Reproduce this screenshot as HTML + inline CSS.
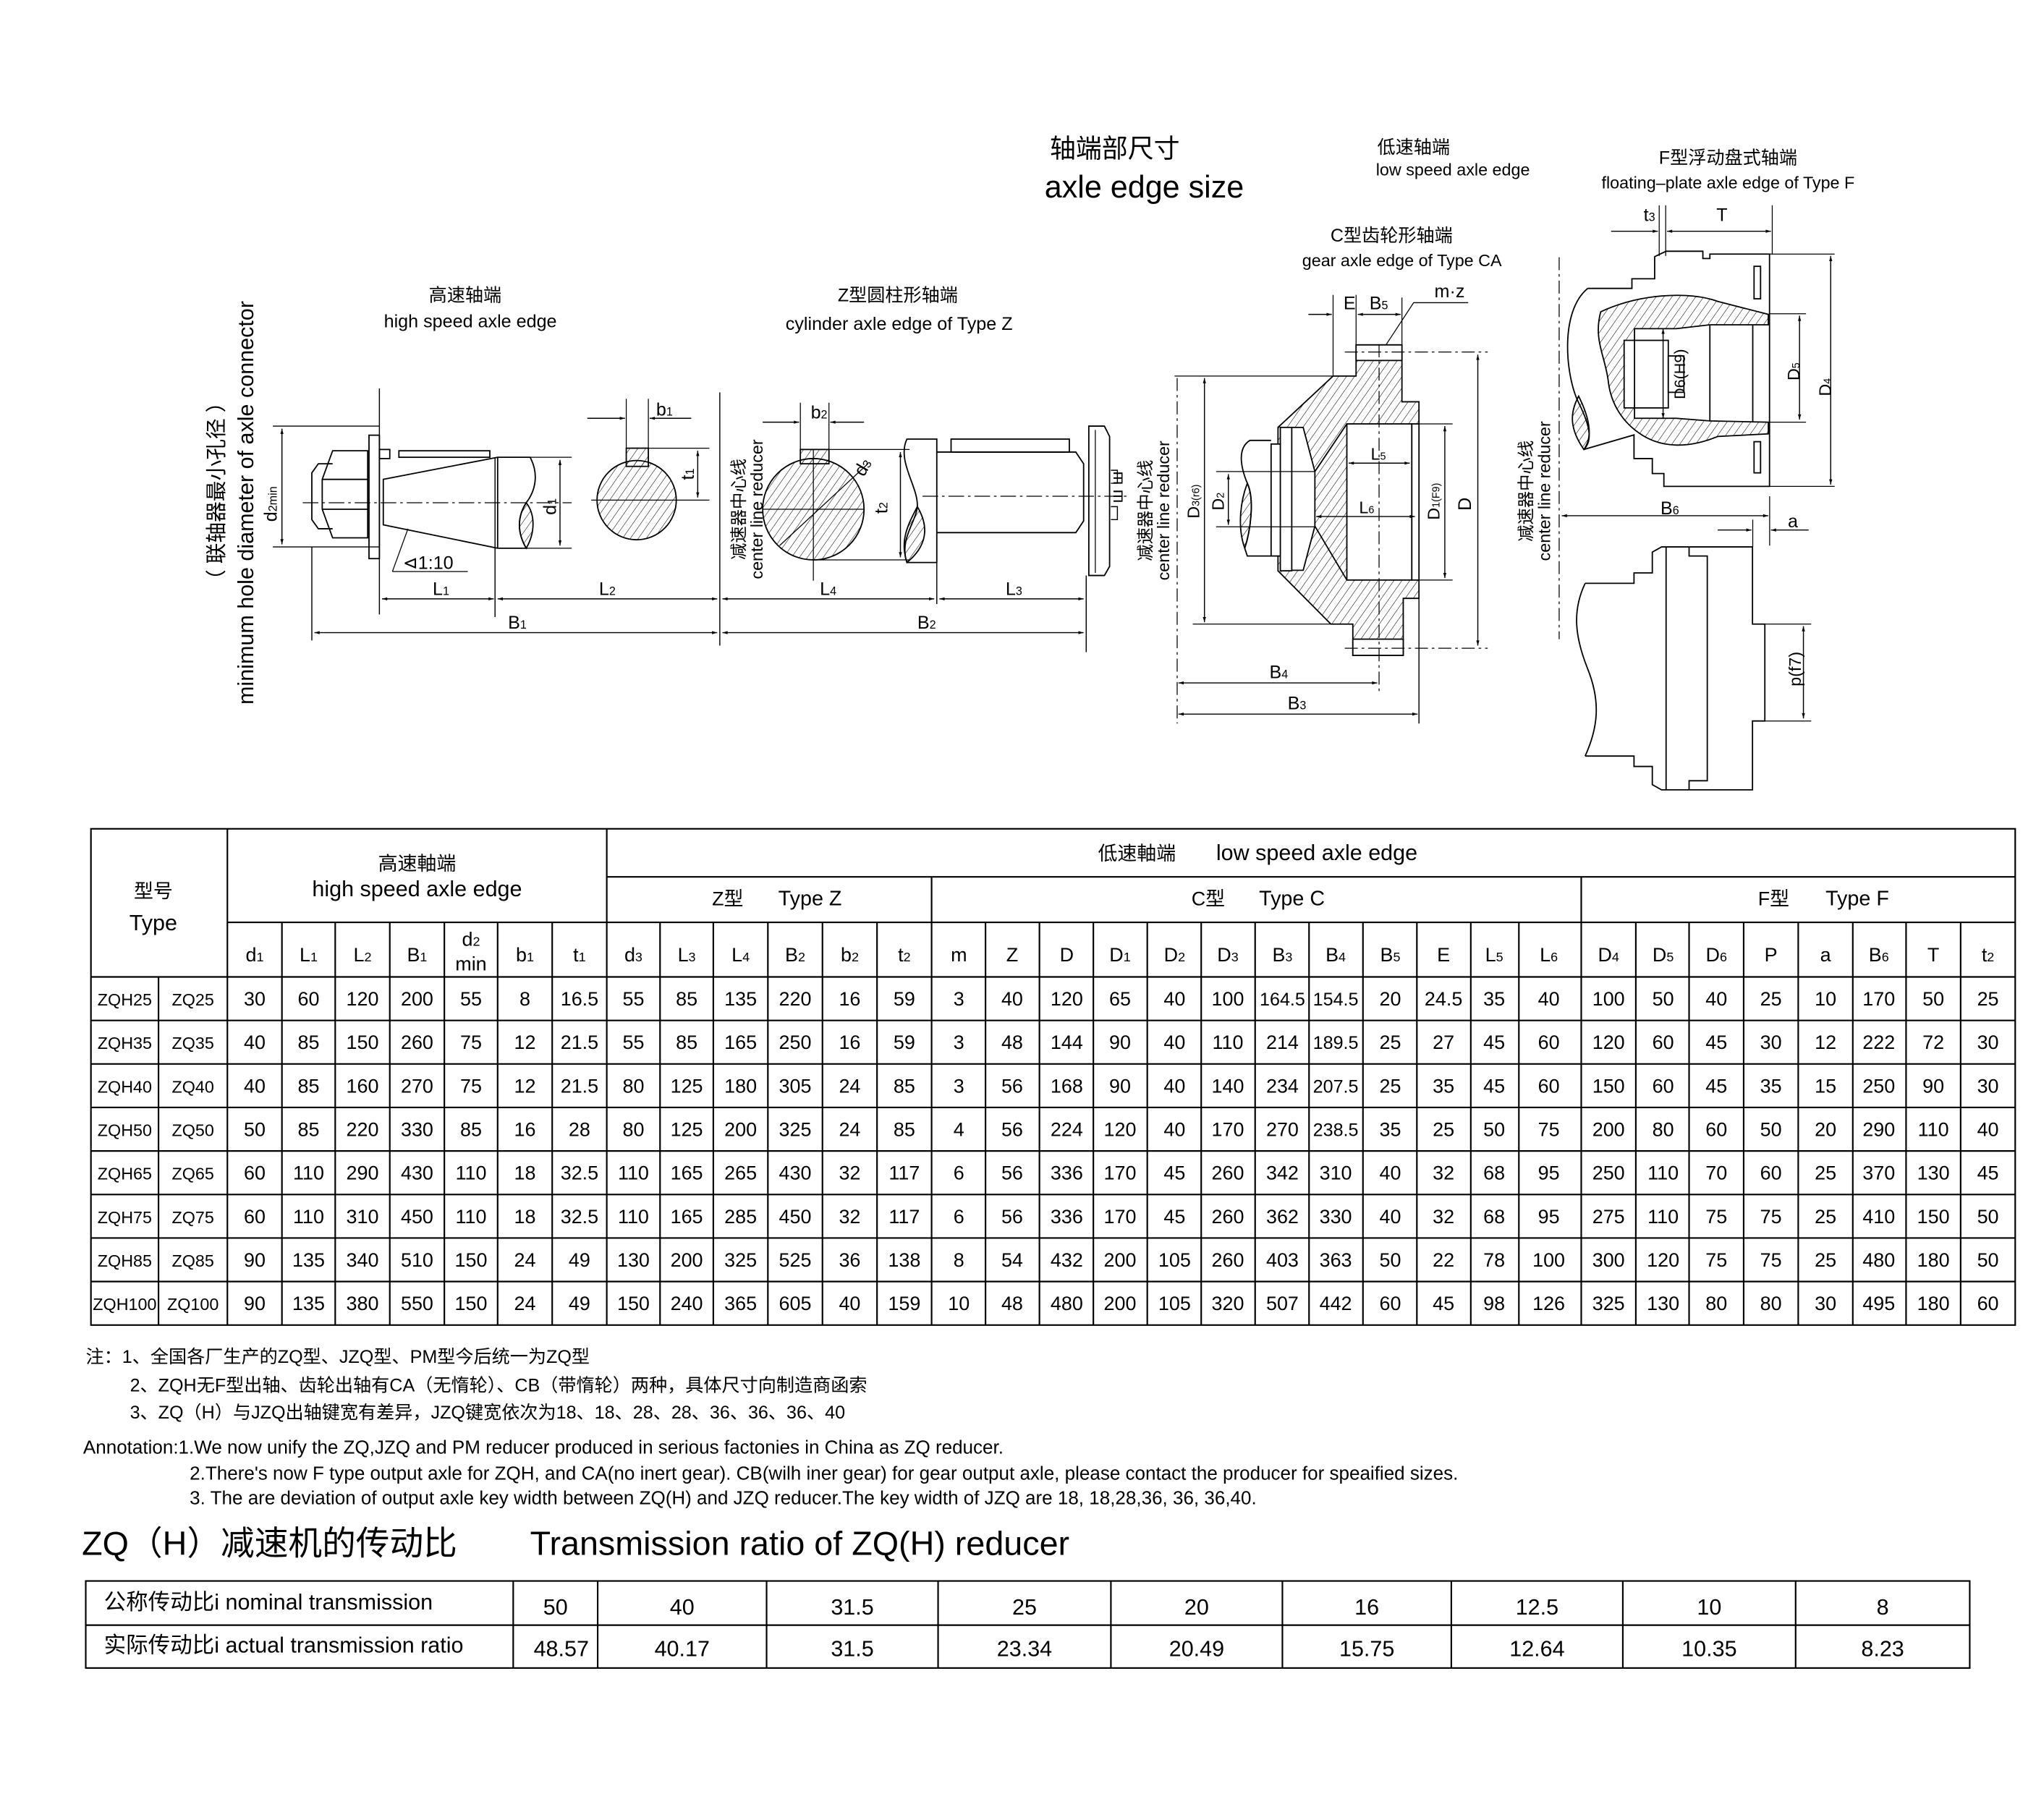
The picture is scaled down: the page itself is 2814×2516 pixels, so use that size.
<!DOCTYPE html>
<html><head><meta charset="utf-8"><style>
html,body{margin:0;padding:0;background:#fff}
svg{display:block}
text{font-family:"Liberation Sans","Noto Sans CJK SC",sans-serif;fill:#000}
</style></head><body>
<svg width="2814" height="2516" viewBox="0 0 1567 1401" preserveAspectRatio="none" xmlns="http://www.w3.org/2000/svg">
<defs>
<pattern id="h" width="5" height="5" patternUnits="userSpaceOnUse" patternTransform="rotate(35)"><line x1="0" y1="0" x2="0" y2="5" stroke="#000" stroke-width="0.6"/></pattern>
<marker id="a" viewBox="0 0 10 10" refX="10" refY="5" markerWidth="7" markerHeight="5" orient="auto-start-reverse"><path d="M0,2 L10,5 L0,8 z" fill="#000"/></marker>
</defs>
<rect width="1567" height="1401" fill="#fff"/>
<g stroke="#000" fill="none" stroke-width="1">

<!-- ===== HIGH SPEED SHAFT ===== -->
<line x1="292" y1="299" x2="292" y2="473" stroke-width="0.8"/>
<line x1="210" y1="328" x2="292" y2="328" stroke-width="0.8"/>
<line x1="210" y1="421" x2="292" y2="421" stroke-width="0.8"/>
<line x1="217" y1="330" x2="217" y2="419" marker-start="url(#a)" marker-end="url(#a)" stroke-width="0.8"/>
<rect x="284" y="335" width="8" height="95"/>
<rect x="292" y="346" width="8" height="7"/>
<path d="M256,347 L283,347 L283,414 L256,414 L248,392 L248,369 Z"/>
<line x1="248" y1="369" x2="283" y2="369"/><line x1="248" y1="392" x2="283" y2="392"/>
<path d="M256,357 L245,357 L240,364 L240,400 L245,407 L256,407"/>
<path d="M295,369 L383,352 L408,352 C415,365 412,378 405,387 C398,398 398,410 405,422 L383,422 L295,404 Z"/>
<path d="M405,387 C412,396 412,410 405,422 C398,410 398,398 405,387 Z" fill="url(#h)"/>
<line x1="383" y1="352" x2="383" y2="422"/>
<rect x="307" y="347" width="70" height="5"/>
<line x1="233" y1="387" x2="440" y2="387" stroke-dasharray="12,3,2,3" stroke-width="0.7"/>
<line x1="405" y1="352" x2="440" y2="352" stroke-width="0.7"/><line x1="405" y1="422" x2="440" y2="422" stroke-width="0.7"/>
<line x1="431" y1="354" x2="431" y2="420" marker-start="url(#a)" marker-end="url(#a)" stroke-width="0.8"/>
<path d="M302,440 L314,407 M302,440 L360,440" stroke-width="0.7"/>
<line x1="381" y1="352" x2="381" y2="475" stroke-width="0.8"/>
<line x1="554" y1="302" x2="554" y2="497" stroke-width="0.8"/>
<line x1="240" y1="421" x2="240" y2="493" stroke-width="0.8"/>
<line x1="294" y1="461" x2="380" y2="461" marker-start="url(#a)" marker-end="url(#a)" stroke-width="0.8"/>
<line x1="383" y1="461" x2="552" y2="461" marker-start="url(#a)" marker-end="url(#a)" stroke-width="0.8"/>
<line x1="242" y1="487" x2="552" y2="487" marker-start="url(#a)" marker-end="url(#a)" stroke-width="0.8"/>
<!-- key circle 1 -->
<circle cx="490" cy="385" r="30.5" fill="url(#h)"/>
<rect x="482" y="345" width="17" height="14" fill="url(#h)"/>
<line x1="482" y1="307" x2="482" y2="345" stroke-width="0.7"/><line x1="499" y1="307" x2="499" y2="345" stroke-width="0.7"/>
<line x1="452" y1="322" x2="481" y2="322" marker-end="url(#a)" stroke-width="0.8"/>
<line x1="532" y1="322" x2="500" y2="322" marker-end="url(#a)" stroke-width="0.8"/>
<line x1="499" y1="345" x2="546" y2="345" stroke-width="0.7"/>
<line x1="455" y1="385" x2="546" y2="385" stroke-width="0.7"/>
<line x1="537" y1="347" x2="537" y2="383" marker-start="url(#a)" marker-end="url(#a)" stroke-width="0.8"/>
<!-- key circle 2 -->
<circle cx="626" cy="392" r="39" fill="url(#h)"/>
<rect x="616" y="346" width="22" height="11" fill="url(#h)"/>
<line x1="616" y1="310" x2="616" y2="346" stroke-width="0.7"/><line x1="638" y1="310" x2="638" y2="346" stroke-width="0.7"/>
<line x1="587" y1="325" x2="615" y2="325" marker-end="url(#a)" stroke-width="0.8"/>
<line x1="665" y1="325" x2="639" y2="325" marker-end="url(#a)" stroke-width="0.8"/>
<line x1="626" y1="346" x2="626" y2="447" stroke-width="0.7"/>
<line x1="587" y1="392" x2="665" y2="392" stroke-width="0.7"/>
<line x1="600" y1="420" x2="668" y2="357" stroke-width="0.7"/>
<line x1="638" y1="346" x2="700" y2="346" stroke-width="0.7"/><line x1="626" y1="431" x2="700" y2="431" stroke-width="0.7"/>
<line x1="693" y1="348" x2="693" y2="429" marker-start="url(#a)" marker-end="url(#a)" stroke-width="0.8"/>
<!-- Z shaft -->
<path d="M698,338 L721,338 L721,433 L698,433 C692,415 705,402 706,390 C707,375 690,355 698,338 Z"/>
<path d="M706,390 C715,405 714,420 698,433 C692,415 700,402 706,390 Z" fill="url(#h)"/>
<path d="M721,348 L828,348 L834,357 L834,401 L828,410 L721,410"/>
<rect x="732" y="338" width="91" height="10"/>
<path d="M838,328 L850,328 L854,336 L854,436 L850,443 L838,443 Z"/>
<line x1="843" y1="331" x2="843" y2="441" stroke-width="0.7"/>
<path d="M855,362 h5 v10 h-5 M855,390 h5 v10 h-5" stroke-width="0.8"/>
<line x1="710" y1="382" x2="870" y2="382" stroke-dasharray="12,3,2,3" stroke-width="0.7"/>
<line x1="721" y1="433" x2="721" y2="465" stroke-width="0.8"/>
<line x1="836" y1="443" x2="836" y2="502" stroke-width="0.8"/>
<line x1="556" y1="461" x2="719" y2="461" marker-start="url(#a)" marker-end="url(#a)" stroke-width="0.8"/>
<line x1="723" y1="461" x2="834" y2="461" marker-start="url(#a)" marker-end="url(#a)" stroke-width="0.8"/>
<line x1="556" y1="487" x2="834" y2="487" marker-start="url(#a)" marker-end="url(#a)" stroke-width="0.8"/>

<!-- ===== GEAR C ===== -->
<line x1="906" y1="291" x2="906" y2="557" stroke-dasharray="10,3,2,3" stroke-width="0.7"/>
<path d="M983.6,329 L1026,289.5 L1043.7,289.5 L1043.7,265.5 L1079,265.5 L1079,309.3 L1092.1,309.3 L1092.1,460.6 L1080,460.6 L1080,504.5 L1041.2,504.5 L1041.2,480.4 L1024.3,480.4 L983.6,439.4 Z" fill="url(#h)"/>
<rect x="1043.7" y="265.5" width="35.3" height="12" fill="#fff"/>
<rect x="1041.2" y="492" width="38.8" height="12.5" fill="#fff"/>
<rect x="1036.6" y="326.3" width="50" height="120.2" fill="#fff"/>
<rect x="1086.6" y="326.3" width="5.5" height="120.2" fill="#fff"/>
<path d="M994,329 L1003,329 L1012,363 L1012,405 L1003,439 L994,439 Z" fill="#fff"/>
<path d="M1036.6,326.3 L1012,363 M1036.6,446.5 L1012,405"/>
<rect x="985.4" y="329" width="8.8" height="110.4" fill="#fff"/>
<rect x="978.3" y="341.8" width="7.1" height="86.2" fill="#fff"/>
<path d="M978.3,339 L962,339 C952,345 955,360 960,372 C966,385 962,410 958,422 L960,428 L978.3,428"/>
<path d="M960,372 C966,385 962,410 958,422 C952,405 955,385 960,372 Z" fill="url(#h)"/>
<line x1="1061.4" y1="265" x2="1061.4" y2="534" stroke-dasharray="10,3,2,3" stroke-width="0.7"/>
<line x1="1035" y1="271" x2="1145" y2="271" stroke-dasharray="10,3,2,3" stroke-width="0.7"/>
<line x1="1035" y1="499" x2="1145" y2="499" stroke-dasharray="10,3,2,3" stroke-width="0.7"/>
<line x1="1137.4" y1="273" x2="1137.4" y2="497" marker-start="url(#a)" marker-end="url(#a)" stroke-width="0.8"/>
<line x1="1092" y1="326.3" x2="1118" y2="326.3" stroke-width="0.7"/><line x1="1092" y1="446.5" x2="1118" y2="446.5" stroke-width="0.7"/>
<line x1="1112" y1="328" x2="1112" y2="445" marker-start="url(#a)" marker-end="url(#a)" stroke-width="0.8"/>
<line x1="904" y1="289.5" x2="1026" y2="289.5" stroke-width="0.7"/><line x1="918" y1="480.4" x2="1024" y2="480.4" stroke-width="0.7"/>
<line x1="927" y1="291" x2="927" y2="479" marker-start="url(#a)" marker-end="url(#a)" stroke-width="0.8"/>
<line x1="936" y1="363" x2="1012" y2="363" stroke-width="0.7"/><line x1="936" y1="405.5" x2="1012" y2="405.5" stroke-width="0.7"/>
<line x1="945.4" y1="365" x2="945.4" y2="404" marker-start="url(#a)" marker-end="url(#a)" stroke-width="0.8"/>
<line x1="1038" y1="356.5" x2="1085" y2="356.5" marker-start="url(#a)" marker-end="url(#a)" stroke-width="0.8"/>
<line x1="1013" y1="397.6" x2="1089" y2="397.6" marker-start="url(#a)" marker-end="url(#a)" stroke-width="0.8"/>
<line x1="1026" y1="227" x2="1026" y2="289" stroke-width="0.7"/>
<line x1="1043.7" y1="227" x2="1043.7" y2="265" stroke-width="0.7"/>
<line x1="1079" y1="229" x2="1079" y2="265" stroke-width="0.7"/>
<line x1="1007" y1="242" x2="1025" y2="242" marker-end="url(#a)" stroke-width="0.8"/>
<line x1="1045" y1="242" x2="1078" y2="242" marker-start="url(#a)" marker-end="url(#a)" stroke-width="0.8"/>
<path d="M1066.7,265.5 L1088,233 L1130,233" stroke-width="0.7"/>
<line x1="1092.1" y1="460" x2="1092.1" y2="557" stroke-width="0.8"/>
<line x1="907" y1="525.7" x2="1060" y2="525.7" marker-start="url(#a)" marker-end="url(#a)" stroke-width="0.8"/>
<line x1="907" y1="549.7" x2="1091" y2="549.7" marker-start="url(#a)" marker-end="url(#a)" stroke-width="0.8"/>

<!-- ===== TYPE F ===== -->
<line x1="1200" y1="198" x2="1200" y2="492" stroke-dasharray="10,3,2,3" stroke-width="0.7"/>
<line x1="1277" y1="158" x2="1277" y2="197" stroke-width="0.7"/><line x1="1282" y1="158" x2="1282" y2="197" stroke-width="0.7"/>
<line x1="1364" y1="158" x2="1364" y2="196" stroke-width="0.7"/>
<line x1="1240" y1="178" x2="1276" y2="178" marker-end="url(#a)" stroke-width="0.8"/>
<line x1="1283" y1="178" x2="1363" y2="178" marker-start="url(#a)" marker-end="url(#a)" stroke-width="0.8"/>
<path d="M1222,222 L1256,222 L1256,214.6 L1273.5,214.6 L1273.5,197.6 L1282.3,193.4 L1310.6,193.4 L1310.6,199 L1316,199 L1316,195.6 L1361.9,195.6 L1361.9,374.4 L1280.6,374.4 L1280.6,364.5 L1271.7,364.5 L1271.7,353 L1257.6,353 L1257.6,334.8 L1219,346"/>
<path d="M1222,222 C1200,240 1205,290 1215,310 C1225,330 1225,340 1219,346"/>
<path d="M1215,305 C1225,325 1225,338 1219,346 C1208,330 1208,318 1215,305 Z" fill="url(#h)"/>
<path d="M1232,240 C1262,226 1300,224 1322,232 L1361,242 L1361,250 L1316,250 L1290,253 L1258,253 L1258,262 L1250,262 L1250,314 L1258,314 L1258,322 L1290,322 L1316,324 L1361,325 L1361,334 L1322,336 C1300,345 1280,345 1264,335 C1248,325 1240,310 1238,295 C1236,275 1226,262 1232,240 Z" fill="url(#h)"/>
<rect x="1258" y="262" width="26" height="52" fill="#fff"/>
<rect x="1284" y="274" width="12" height="28" fill="#fff"/>
<line x1="1316" y1="250" x2="1316" y2="324"/>
<line x1="1349" y1="250" x2="1349" y2="325"/>
<rect x="1350" y="205" width="5" height="25"/><rect x="1350" y="340" width="5" height="24"/>
<line x1="1280" y1="253" x2="1280" y2="322" marker-start="url(#a)" marker-end="url(#a)" stroke-width="0.8"/>
<line x1="1362" y1="195.6" x2="1412" y2="195.6" stroke-width="0.7"/><line x1="1362" y1="374.4" x2="1412" y2="374.4" stroke-width="0.7"/>
<line x1="1362" y1="241.5" x2="1390" y2="241.5" stroke-width="0.7"/><line x1="1362" y1="325" x2="1390" y2="325" stroke-width="0.7"/>
<line x1="1385" y1="243" x2="1385" y2="323" marker-start="url(#a)" marker-end="url(#a)" stroke-width="0.8"/>
<line x1="1409" y1="197" x2="1409" y2="373" marker-start="url(#a)" marker-end="url(#a)" stroke-width="0.8"/>
<line x1="1362" y1="382" x2="1362" y2="420" stroke-width="0.7"/><line x1="1349" y1="400" x2="1349" y2="421" stroke-width="0.7"/>
<line x1="1202" y1="397" x2="1361" y2="397" marker-start="url(#a)" marker-end="url(#a)" stroke-width="0.8"/>
<line x1="1322" y1="408" x2="1348" y2="408" marker-end="url(#a)" stroke-width="0.8"/>
<line x1="1392" y1="408" x2="1363" y2="408" marker-end="url(#a)" stroke-width="0.8"/>
<!-- bottom F -->
<path d="M1220,449 L1257.6,449 L1257.6,441 L1271.7,441 L1271.7,425 L1278.8,421 L1348.8,421 L1348.8,480.4 L1358.3,480.4 L1358.3,555 L1348.8,555 L1348.8,608 L1278.8,608 L1271.7,604 L1271.7,590 L1257.6,590 L1257.6,582 L1220,582"/>
<path d="M1220,449 C1210,470 1212,490 1222,515 C1232,540 1230,560 1220,582"/>
<line x1="1282.3" y1="421" x2="1282.3" y2="608"/>
<path d="M1300,421 L1300,428 L1314,428 L1314,601 L1300,601 L1300,608"/>
<line x1="1358" y1="480.4" x2="1394" y2="480.4" stroke-width="0.7"/><line x1="1358" y1="555" x2="1394" y2="555" stroke-width="0.7"/>
<line x1="1388" y1="482" x2="1388" y2="553" marker-start="url(#a)" marker-end="url(#a)" stroke-width="0.8"/>
</g>

<!-- drawing texts -->
<text x="808" y="121" font-size="20">轴端部尺寸</text>
<text x="804" y="152" font-size="24">axle edge size</text>
<text x="1060" y="118" font-size="14">低速轴端</text>
<text x="1059" y="135" font-size="13">low speed axle edge</text>
<text x="1330" y="126" font-size="14" text-anchor="middle">F型浮动盘式轴端</text>
<text x="1330" y="145" font-size="13" text-anchor="middle">floating–plate axle edge of Type F</text>
<text x="1071" y="186" font-size="14" text-anchor="middle">C型齿轮形轴端</text>
<text x="1079" y="205" font-size="13" text-anchor="middle">gear axle edge of Type CA</text>
<text x="358" y="232" font-size="14" text-anchor="middle">高速轴端</text>
<text x="362" y="252" font-size="14" text-anchor="middle">high speed axle edge</text>
<text x="691" y="232" font-size="14" text-anchor="middle">Z型圆柱形轴端</text>
<text x="692" y="254" font-size="14" text-anchor="middle">cylinder axle edge of Type Z</text>
<text transform="translate(172,378) rotate(-90)" font-size="16" text-anchor="middle">（ 联轴器最小孔径 ）</text>
<text transform="translate(195,387) rotate(-90)" font-size="17" text-anchor="middle">minimum hole diameter of axle connector</text>
<text transform="translate(213,388) rotate(-90)" font-size="14" text-anchor="middle">d<tspan font-size="9">2min</tspan></text>
<text transform="translate(428,390) rotate(-90)" font-size="14" text-anchor="middle">d<tspan font-size="9">1</tspan></text>
<text x="310" y="438" font-size="14">⊲1:10</text>
<text x="333" y="458" font-size="14">L<tspan font-size="9">1</tspan></text>
<text x="461" y="458" font-size="14">L<tspan font-size="9">2</tspan></text>
<text x="391" y="484" font-size="14">B<tspan font-size="9">1</tspan></text>
<text x="505" y="320" font-size="14">b<tspan font-size="9">1</tspan></text>
<text transform="translate(534,365) rotate(-90)" font-size="14" text-anchor="middle">t<tspan font-size="9">1</tspan></text>
<text x="624" y="322" font-size="14">b<tspan font-size="9">2</tspan></text>
<text transform="translate(668,362) rotate(-60)" font-size="14" text-anchor="middle">d<tspan font-size="9">3</tspan></text>
<text transform="translate(683,391) rotate(-90)" font-size="14" text-anchor="middle">t<tspan font-size="9">2</tspan></text>
<text transform="translate(573,392) rotate(-90)" font-size="13" text-anchor="middle">减速器中心线</text>
<text transform="translate(587,392) rotate(-90)" font-size="13" text-anchor="middle">center line reducer</text>
<text x="631" y="458" font-size="14">L<tspan font-size="9">4</tspan></text>
<text x="774" y="458" font-size="14">L<tspan font-size="9">3</tspan></text>
<text x="706" y="484" font-size="14">B<tspan font-size="9">2</tspan></text>
<text transform="translate(864,375) rotate(-90)" font-size="13" text-anchor="middle">ш ш</text>
<text transform="translate(886,393) rotate(-90)" font-size="13" text-anchor="middle">减速器中心线</text>
<text transform="translate(900,393) rotate(-90)" font-size="13" text-anchor="middle">center line reducer</text>
<text transform="translate(923,386) rotate(-90)" font-size="13" text-anchor="middle">D<tspan font-size="8">3(r6)</tspan></text>
<text transform="translate(942,386) rotate(-90)" font-size="13" text-anchor="middle">D<tspan font-size="8">2</tspan></text>
<text transform="translate(1108,386) rotate(-90)" font-size="13" text-anchor="middle">D<tspan font-size="8">1(F9)</tspan></text>
<text transform="translate(1132,388) rotate(-90)" font-size="14" text-anchor="middle">D</text>
<text x="1055" y="354" font-size="13">L<tspan font-size="8">5</tspan></text>
<text x="1046" y="395" font-size="13">L<tspan font-size="8">6</tspan></text>
<text x="1034" y="238" font-size="14">E</text>
<text x="1054" y="238" font-size="14">B<tspan font-size="9">5</tspan></text>
<text x="1104" y="229" font-size="14">m·z</text>
<text x="977" y="522" font-size="14">B<tspan font-size="9">4</tspan></text>
<text x="991" y="546" font-size="14">B<tspan font-size="9">3</tspan></text>
<text x="1265" y="170" font-size="14">t<tspan font-size="9">3</tspan></text>
<text x="1321" y="170" font-size="14">T</text>
<text transform="translate(1297,288) rotate(-90)" font-size="12" text-anchor="middle">D6(H9)</text>
<text transform="translate(1385,286) rotate(-90)" font-size="13" text-anchor="middle">D<tspan font-size="8">5</tspan></text>
<text transform="translate(1409,298) rotate(-90)" font-size="13" text-anchor="middle">D<tspan font-size="8">4</tspan></text>
<text transform="translate(1179,378) rotate(-90)" font-size="13" text-anchor="middle">减速器中心线</text>
<text transform="translate(1193,378) rotate(-90)" font-size="13" text-anchor="middle">center line reducer</text>
<text x="1278" y="396" font-size="14">B<tspan font-size="9">6</tspan></text>
<text x="1376" y="406" font-size="14">a</text>
<text transform="translate(1386,515) rotate(-90)" font-size="13" text-anchor="middle">p(f7)</text>

<!-- ===== MAIN TABLE ===== -->
<g stroke="#000" stroke-width="1.2" fill="none">
<rect x="70" y="638" width="1481" height="382"/>
<line x1="467" y1="675" x2="1551" y2="675"/>
<line x1="175" y1="710" x2="1551" y2="710"/>
<line x1="175" y1="752" x2="1551" y2="752"/><line x1="70" y1="752" x2="175" y2="752"/>
<line x1="70" y1="785.5" x2="1551" y2="785.5"/><line x1="70" y1="819" x2="1551" y2="819"/>
<line x1="70" y1="852.5" x2="1551" y2="852.5"/><line x1="70" y1="886" x2="1551" y2="886"/>
<line x1="70" y1="919.5" x2="1551" y2="919.5"/><line x1="70" y1="953" x2="1551" y2="953"/>
<line x1="70" y1="986.5" x2="1551" y2="986.5"/>
<line x1="122" y1="752" x2="122" y2="1020"/>
<line x1="175" y1="638" x2="175" y2="1020"/>
<line x1="467" y1="638" x2="467" y2="1020"/>
<line x1="717" y1="675" x2="717" y2="1020"/>
<line x1="1217" y1="675" x2="1217" y2="1020"/>
<path d="M217,710V1020M258,710V1020M300,710V1020M342,710V1020M383,710V1020M425,710V1020M508,710V1020M549,710V1020M591,710V1020M633,710V1020M675,710V1020M758.5,710V1020M800,710V1020M841.5,710V1020M883,710V1020M924.5,710V1020M966,710V1020M1007.5,710V1020M1049,710V1020M1090.5,710V1020M1132,710V1020M1169,710V1020M1259,710V1020M1300,710V1020M1342,710V1020M1384,710V1020M1426,710V1020M1467,710V1020M1509,710V1020"/>
</g>
<text x="118" y="691" font-size="15" text-anchor="middle">型号</text>
<text x="118" y="716" font-size="17" text-anchor="middle">Type</text>
<text x="321" y="670" font-size="15" text-anchor="middle">高速軸端</text>
<text x="321" y="690" font-size="17" text-anchor="middle">high speed axle edge</text>
<text x="845" y="662" font-size="15">低速軸端</text>
<text x="936" y="662" font-size="17">low speed axle edge</text>
<text x="548" y="697" font-size="15">Z型</text><text x="599" y="697" font-size="16">Type Z</text>
<text x="917" y="697" font-size="15">C型</text><text x="969" y="697" font-size="16">Type C</text>
<text x="1353" y="697" font-size="15">F型</text><text x="1405" y="697" font-size="16">Type F</text>
<g font-size="15" text-anchor="middle">
<text x="196" y="740">d<tspan font-size="10">1</tspan></text>
<text x="237.5" y="740">L<tspan font-size="10">1</tspan></text>
<text x="279" y="740">L<tspan font-size="10">2</tspan></text>
<text x="321" y="740">B<tspan font-size="10">1</tspan></text>
<text x="362.5" y="728">d<tspan font-size="10">2</tspan></text>
<text x="362.5" y="747">min</text>
<text x="404" y="740">b<tspan font-size="10">1</tspan></text>
<text x="446" y="740">t<tspan font-size="10">1</tspan></text>
<text x="487.5" y="740">d<tspan font-size="10">3</tspan></text>
<text x="528.5" y="740">L<tspan font-size="10">3</tspan></text>
<text x="570" y="740">L<tspan font-size="10">4</tspan></text>
<text x="612" y="740">B<tspan font-size="10">2</tspan></text>
<text x="654" y="740">b<tspan font-size="10">2</tspan></text>
<text x="696" y="740">t<tspan font-size="10">2</tspan></text>
<text x="738" y="740">m</text>
<text x="779" y="740">Z</text>
<text x="821" y="740">D</text>
<text x="862" y="740">D<tspan font-size="10">1</tspan></text>
<text x="904" y="740">D<tspan font-size="10">2</tspan></text>
<text x="945" y="740">D<tspan font-size="10">3</tspan></text>
<text x="987" y="740">B<tspan font-size="10">3</tspan></text>
<text x="1028" y="740">B<tspan font-size="10">4</tspan></text>
<text x="1070" y="740">B<tspan font-size="10">5</tspan></text>
<text x="1111" y="740">E</text>
<text x="1150" y="740">L<tspan font-size="10">5</tspan></text>
<text x="1192" y="740">L<tspan font-size="10">6</tspan></text>
<text x="1238" y="740">D<tspan font-size="10">4</tspan></text>
<text x="1280" y="740">D<tspan font-size="10">5</tspan></text>
<text x="1321" y="740">D<tspan font-size="10">6</tspan></text>
<text x="1363" y="740">P</text>
<text x="1405" y="740">a</text>
<text x="1446" y="740">B<tspan font-size="10">6</tspan></text>
<text x="1488" y="740">T</text>
<text x="1530" y="740">t<tspan font-size="10">2</tspan></text>
</g>
<g font-size="15" text-anchor="middle">
<text y="774"><tspan x="96" font-size="13">ZQH25</tspan><tspan x="148.5" font-size="13">ZQ25</tspan><tspan x="196">30</tspan><tspan x="237.5">60</tspan><tspan x="279">120</tspan><tspan x="321">200</tspan><tspan x="362.5">55</tspan><tspan x="404">8</tspan><tspan x="446">16.5</tspan><tspan x="487.5">55</tspan><tspan x="528.5">85</tspan><tspan x="570">135</tspan><tspan x="612">220</tspan><tspan x="654">16</tspan><tspan x="696">59</tspan><tspan x="738">3</tspan><tspan x="779">40</tspan><tspan x="821">120</tspan><tspan x="862">65</tspan><tspan x="904">40</tspan><tspan x="945">100</tspan><tspan x="987" font-size="14">164.5</tspan><tspan x="1028" font-size="14">154.5</tspan><tspan x="1070">20</tspan><tspan x="1111">24.5</tspan><tspan x="1150">35</tspan><tspan x="1192">40</tspan><tspan x="1238">100</tspan><tspan x="1280">50</tspan><tspan x="1321">40</tspan><tspan x="1363">25</tspan><tspan x="1405">10</tspan><tspan x="1446">170</tspan><tspan x="1488">50</tspan><tspan x="1530">25</tspan></text>
<text y="807.5"><tspan x="96" font-size="13">ZQH35</tspan><tspan x="148.5" font-size="13">ZQ35</tspan><tspan x="196">40</tspan><tspan x="237.5">85</tspan><tspan x="279">150</tspan><tspan x="321">260</tspan><tspan x="362.5">75</tspan><tspan x="404">12</tspan><tspan x="446">21.5</tspan><tspan x="487.5">55</tspan><tspan x="528.5">85</tspan><tspan x="570">165</tspan><tspan x="612">250</tspan><tspan x="654">16</tspan><tspan x="696">59</tspan><tspan x="738">3</tspan><tspan x="779">48</tspan><tspan x="821">144</tspan><tspan x="862">90</tspan><tspan x="904">40</tspan><tspan x="945">110</tspan><tspan x="987">214</tspan><tspan x="1028" font-size="14">189.5</tspan><tspan x="1070">25</tspan><tspan x="1111">27</tspan><tspan x="1150">45</tspan><tspan x="1192">60</tspan><tspan x="1238">120</tspan><tspan x="1280">60</tspan><tspan x="1321">45</tspan><tspan x="1363">30</tspan><tspan x="1405">12</tspan><tspan x="1446">222</tspan><tspan x="1488">72</tspan><tspan x="1530">30</tspan></text>
<text y="841"><tspan x="96" font-size="13">ZQH40</tspan><tspan x="148.5" font-size="13">ZQ40</tspan><tspan x="196">40</tspan><tspan x="237.5">85</tspan><tspan x="279">160</tspan><tspan x="321">270</tspan><tspan x="362.5">75</tspan><tspan x="404">12</tspan><tspan x="446">21.5</tspan><tspan x="487.5">80</tspan><tspan x="528.5">125</tspan><tspan x="570">180</tspan><tspan x="612">305</tspan><tspan x="654">24</tspan><tspan x="696">85</tspan><tspan x="738">3</tspan><tspan x="779">56</tspan><tspan x="821">168</tspan><tspan x="862">90</tspan><tspan x="904">40</tspan><tspan x="945">140</tspan><tspan x="987">234</tspan><tspan x="1028" font-size="14">207.5</tspan><tspan x="1070">25</tspan><tspan x="1111">35</tspan><tspan x="1150">45</tspan><tspan x="1192">60</tspan><tspan x="1238">150</tspan><tspan x="1280">60</tspan><tspan x="1321">45</tspan><tspan x="1363">35</tspan><tspan x="1405">15</tspan><tspan x="1446">250</tspan><tspan x="1488">90</tspan><tspan x="1530">30</tspan></text>
<text y="874.5"><tspan x="96" font-size="13">ZQH50</tspan><tspan x="148.5" font-size="13">ZQ50</tspan><tspan x="196">50</tspan><tspan x="237.5">85</tspan><tspan x="279">220</tspan><tspan x="321">330</tspan><tspan x="362.5">85</tspan><tspan x="404">16</tspan><tspan x="446">28</tspan><tspan x="487.5">80</tspan><tspan x="528.5">125</tspan><tspan x="570">200</tspan><tspan x="612">325</tspan><tspan x="654">24</tspan><tspan x="696">85</tspan><tspan x="738">4</tspan><tspan x="779">56</tspan><tspan x="821">224</tspan><tspan x="862">120</tspan><tspan x="904">40</tspan><tspan x="945">170</tspan><tspan x="987">270</tspan><tspan x="1028" font-size="14">238.5</tspan><tspan x="1070">35</tspan><tspan x="1111">25</tspan><tspan x="1150">50</tspan><tspan x="1192">75</tspan><tspan x="1238">200</tspan><tspan x="1280">80</tspan><tspan x="1321">60</tspan><tspan x="1363">50</tspan><tspan x="1405">20</tspan><tspan x="1446">290</tspan><tspan x="1488">110</tspan><tspan x="1530">40</tspan></text>
<text y="908"><tspan x="96" font-size="13">ZQH65</tspan><tspan x="148.5" font-size="13">ZQ65</tspan><tspan x="196">60</tspan><tspan x="237.5">110</tspan><tspan x="279">290</tspan><tspan x="321">430</tspan><tspan x="362.5">110</tspan><tspan x="404">18</tspan><tspan x="446">32.5</tspan><tspan x="487.5">110</tspan><tspan x="528.5">165</tspan><tspan x="570">265</tspan><tspan x="612">430</tspan><tspan x="654">32</tspan><tspan x="696">117</tspan><tspan x="738">6</tspan><tspan x="779">56</tspan><tspan x="821">336</tspan><tspan x="862">170</tspan><tspan x="904">45</tspan><tspan x="945">260</tspan><tspan x="987">342</tspan><tspan x="1028">310</tspan><tspan x="1070">40</tspan><tspan x="1111">32</tspan><tspan x="1150">68</tspan><tspan x="1192">95</tspan><tspan x="1238">250</tspan><tspan x="1280">110</tspan><tspan x="1321">70</tspan><tspan x="1363">60</tspan><tspan x="1405">25</tspan><tspan x="1446">370</tspan><tspan x="1488">130</tspan><tspan x="1530">45</tspan></text>
<text y="941.5"><tspan x="96" font-size="13">ZQH75</tspan><tspan x="148.5" font-size="13">ZQ75</tspan><tspan x="196">60</tspan><tspan x="237.5">110</tspan><tspan x="279">310</tspan><tspan x="321">450</tspan><tspan x="362.5">110</tspan><tspan x="404">18</tspan><tspan x="446">32.5</tspan><tspan x="487.5">110</tspan><tspan x="528.5">165</tspan><tspan x="570">285</tspan><tspan x="612">450</tspan><tspan x="654">32</tspan><tspan x="696">117</tspan><tspan x="738">6</tspan><tspan x="779">56</tspan><tspan x="821">336</tspan><tspan x="862">170</tspan><tspan x="904">45</tspan><tspan x="945">260</tspan><tspan x="987">362</tspan><tspan x="1028">330</tspan><tspan x="1070">40</tspan><tspan x="1111">32</tspan><tspan x="1150">68</tspan><tspan x="1192">95</tspan><tspan x="1238">275</tspan><tspan x="1280">110</tspan><tspan x="1321">75</tspan><tspan x="1363">75</tspan><tspan x="1405">25</tspan><tspan x="1446">410</tspan><tspan x="1488">150</tspan><tspan x="1530">50</tspan></text>
<text y="975"><tspan x="96" font-size="13">ZQH85</tspan><tspan x="148.5" font-size="13">ZQ85</tspan><tspan x="196">90</tspan><tspan x="237.5">135</tspan><tspan x="279">340</tspan><tspan x="321">510</tspan><tspan x="362.5">150</tspan><tspan x="404">24</tspan><tspan x="446">49</tspan><tspan x="487.5">130</tspan><tspan x="528.5">200</tspan><tspan x="570">325</tspan><tspan x="612">525</tspan><tspan x="654">36</tspan><tspan x="696">138</tspan><tspan x="738">8</tspan><tspan x="779">54</tspan><tspan x="821">432</tspan><tspan x="862">200</tspan><tspan x="904">105</tspan><tspan x="945">260</tspan><tspan x="987">403</tspan><tspan x="1028">363</tspan><tspan x="1070">50</tspan><tspan x="1111">22</tspan><tspan x="1150">78</tspan><tspan x="1192">100</tspan><tspan x="1238">300</tspan><tspan x="1280">120</tspan><tspan x="1321">75</tspan><tspan x="1363">75</tspan><tspan x="1405">25</tspan><tspan x="1446">480</tspan><tspan x="1488">180</tspan><tspan x="1530">50</tspan></text>
<text y="1008.5"><tspan x="96" font-size="13">ZQH100</tspan><tspan x="148.5" font-size="13">ZQ100</tspan><tspan x="196">90</tspan><tspan x="237.5">135</tspan><tspan x="279">380</tspan><tspan x="321">550</tspan><tspan x="362.5">150</tspan><tspan x="404">24</tspan><tspan x="446">49</tspan><tspan x="487.5">150</tspan><tspan x="528.5">240</tspan><tspan x="570">365</tspan><tspan x="612">605</tspan><tspan x="654">40</tspan><tspan x="696">159</tspan><tspan x="738">10</tspan><tspan x="779">48</tspan><tspan x="821">480</tspan><tspan x="862">200</tspan><tspan x="904">105</tspan><tspan x="945">320</tspan><tspan x="987">507</tspan><tspan x="1028">442</tspan><tspan x="1070">60</tspan><tspan x="1111">45</tspan><tspan x="1150">98</tspan><tspan x="1192">126</tspan><tspan x="1238">325</tspan><tspan x="1280">130</tspan><tspan x="1321">80</tspan><tspan x="1363">80</tspan><tspan x="1405">30</tspan><tspan x="1446">495</tspan><tspan x="1488">180</tspan><tspan x="1530">60</tspan></text>
</g>

<!-- notes -->
<g font-size="14">
<text x="66" y="1049">注：1、全国各厂生产的ZQ型、JZQ型、PM型今后统一为ZQ型</text>
<text x="100" y="1071">2、ZQH无F型出轴、齿轮出轴有CA（无惰轮）、CB（带惰轮）两种，具体尺寸向制造商函索</text>
<text x="100" y="1092">3、ZQ（H）与JZQ出轴键宽有差异，JZQ键宽依次为18、18、28、28、36、36、36、40</text>
<text x="64" y="1119" font-size="14.5">Annotation:1.We now unify the ZQ,JZQ and PM reducer produced in serious factonies in China as ZQ reducer.</text>
<text x="146" y="1139" font-size="14.5">2.There's now F type output axle for ZQH, and CA(no inert gear). CB(wilh iner gear) for gear output axle, please contact the producer for speaified sizes.</text>
<text x="146" y="1158" font-size="14.5">3. The are deviation of output axle key width between ZQ(H) and JZQ reducer.The key width of JZQ are 18, 18,28,36, 36, 36,40.</text>
</g>
<text x="63" y="1197" font-size="26">ZQ（H）减速机的传动比</text>
<text x="408" y="1197" font-size="26">Transmission ratio of ZQ(H) reducer</text>

<!-- ratio table -->
<g stroke="#000" stroke-width="1.2" fill="none">
<rect x="66" y="1217" width="1450" height="67"/>
<line x1="66" y1="1251" x2="1516" y2="1251"/>
<path d="M395,1217V1284M460,1217V1284M590,1217V1284M722,1217V1284M855,1217V1284M987,1217V1284M1117,1217V1284M1249,1217V1284M1382,1217V1284"/>
</g>
<text x="80" y="1239" font-size="17">公称传动比i  nominal transmission</text>
<text x="80" y="1272" font-size="17">实际传动比i  actual transmission ratio</text>
<g font-size="17" text-anchor="middle">
<text y="1243"><tspan x="427.5">50</tspan><tspan x="525">40</tspan><tspan x="656">31.5</tspan><tspan x="788.5">25</tspan><tspan x="921">20</tspan><tspan x="1052">16</tspan><tspan x="1183">12.5</tspan><tspan x="1315.5">10</tspan><tspan x="1449">8</tspan></text>
<text y="1275"><tspan x="432">48.57</tspan><tspan x="525">40.17</tspan><tspan x="656">31.5</tspan><tspan x="788.5">23.34</tspan><tspan x="921">20.49</tspan><tspan x="1052">15.75</tspan><tspan x="1183">12.64</tspan><tspan x="1315.5">10.35</tspan><tspan x="1449">8.23</tspan></text>
</g>
</svg>
</body></html>
